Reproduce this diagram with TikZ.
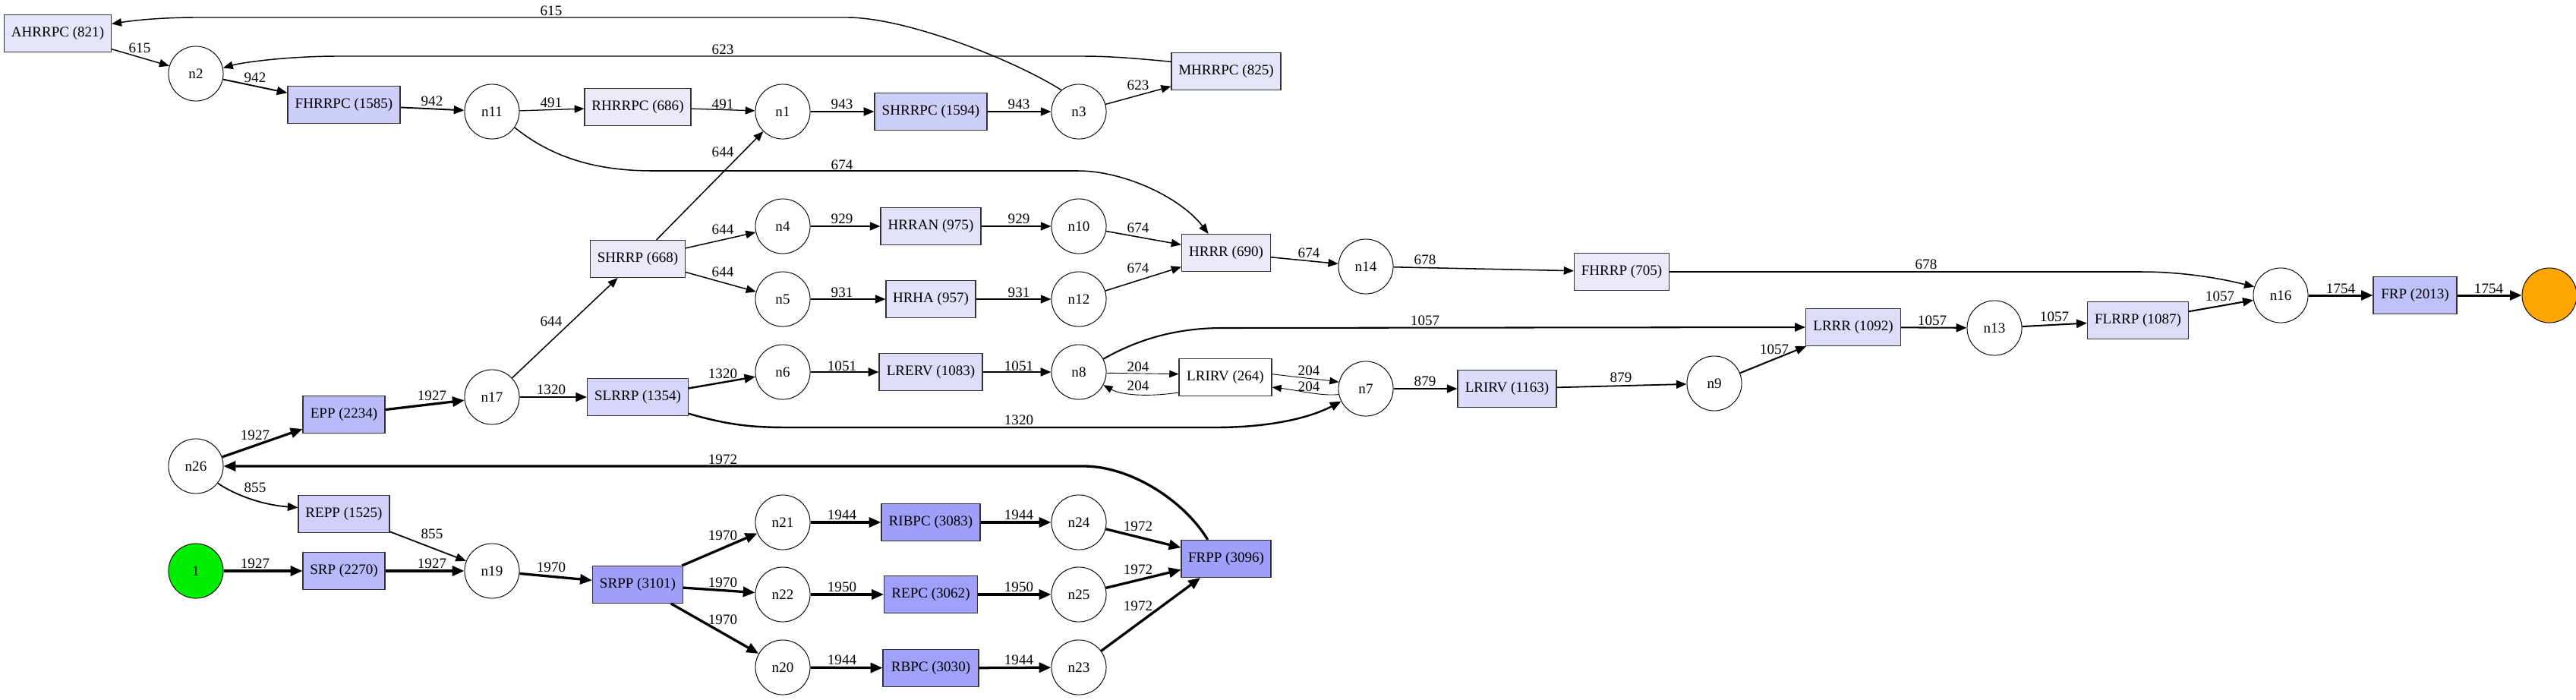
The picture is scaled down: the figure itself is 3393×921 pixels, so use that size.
\documentclass[tikz,border=0pt]{standalone}
\usepackage{fontspec}
\setmainfont{Liberation Serif}
\usetikzlibrary{arrows.meta}
\begin{document}
\begin{tikzpicture}[x=0.735pt,y=-0.735pt, font=\fontsize{14}{16}\selectfont,
  bx/.style 2 args={draw=black!80, line width=0.8pt, fill={rgb,255:red,#1;green,#1;blue,250}, minimum width={#2*0.735pt}, minimum height=36pt, inner sep=0pt},
  el/.style={draw, circle, minimum size=53pt, inner sep=0pt, line width=0.7pt},
  e/.style={line width={(0.45+#1/1000)*1pt}, -{Triangle[length=8pt 1.5, width=6pt 1.5]}},
  lb/.style={inner sep=0pt}
]
\fill[white] (0,0) rectangle (3393,921);
\useasboundingbox (0,0) rectangle (3393,921);

% nodes
\node[bx={230}{141}] (AHRRPC) at (76,44) {AHRRPC (821)};
\node[el] (n2) at (258,97) {n2};
\node[bx={206}{148}] (FHRRPC) at (453,138) {FHRRPC (1585)};
\node[el] (n11) at (648,147) {n11};
\node[bx={234}{140}] (RHRRPC) at (840,141) {RHRRPC (686)};
\node[el] (n1) at (1031,147) {n1};
\node[bx={206}{148}] (SHRRPC) at (1226,147) {SHRRPC (1594)};
\node[el] (n3) at (1421,147) {n3};
\node[bx={229}{144}] (MHRRPC) at (1615,94) {MHRRPC (825)};
\node[bx={234}{125}] (SHRRP) at (840,341) {SHRRP (668)};
\node[el] (n4) at (1031,298) {n4};
\node[bx={225}{132}] (HRRAN) at (1226,298) {HRRAN (975)};
\node[el] (n10) at (1421,298) {n10};
\node[el] (n5) at (1031,394) {n5};
\node[bx={225}{118}] (HRHA) at (1226,394) {HRHA (957)};
\node[el] (n12) at (1421,394) {n12};
\node[bx={234}{117}] (HRRR) at (1615,333) {HRRR (690)};
\node[el] (n14) at (1799,351) {n14};
\node[bx={233}{125}] (FHRRP) at (2136,358) {FHRRP (705)};
\node[el] (n16) at (3004,389) {n16};
\node[bx={193}{110}] (FRP) at (3181,389) {FRP (2013)};
\node[el, fill={rgb,255:red,255;green,165;blue,0}] (end) at (3358,389) {};
\node[bx={221}{125}] (LRRR) at (2441,431) {LRRR (1092)};
\node[el] (n13) at (2627,432) {n13};
\node[bx={221}{133}] (FLRRP) at (2816,422) {FLRRP (1087)};
\node[el] (n26) at (258,614) {n26};
\node[bx={186}{108}] (EPP) at (453,546) {EPP (2234)};
\node[el] (n17) at (648,523) {n17};
\node[bx={213}{133}] (SLRRP) at (840,523) {SLRRP (1354)};
\node[el] (n6) at (1031,490) {n6};
\node[bx={221}{136}] (LRERV) at (1226,490) {LRERV (1083)};
\node[el] (n8) at (1421,490) {n8};
\node[bx={255}{122}, fill=white] (LRIRVa) at (1614,497) {LRIRV (264)};
\node[el] (n7) at (1799,512) {n7};
\node[bx={219}{130}] (LRIRVb) at (1985,512) {LRIRV (1163)};
\node[el] (n9) at (2258,505) {n9};
\node[bx={208}{120}] (REPP) at (453,677) {REPP (1525)};
\node[el, fill={rgb,255:red,0;green,238;blue,0}] (s1) at (258,752) {1};
\node[bx={185}{108}] (SRP) at (453,752) {SRP (2270)};
\node[el] (n19) at (648,752) {n19};
\node[bx={159}{119}] (SRPP) at (840,770) {SRPP (3101)};
\node[el] (n21) at (1031,688) {n21};
\node[bx={159}{130}] (RIBPC) at (1226,688) {RIBPC (3083)};
\node[el] (n24) at (1421,688) {n24};
\node[el] (n22) at (1031,783) {n22};
\node[bx={160}{123}] (REPC) at (1226,783) {REPC (3062)};
\node[el] (n25) at (1421,783) {n25};
\node[el] (n20) at (1031,879) {n20};
\node[bx={161}{126}] (RBPC) at (1226,880) {RBPC (3030)};
\node[el] (n23) at (1421,879) {n23};
\node[bx={159}{118}] (FRPP) at (1615,736) {FRPP (3096)};

% curved edges
\draw[e=615] (n3.129) .. controls (1328,75) and (1190,23) .. (1116,23) -- (260,23) .. controls (210,23) and (175,27) .. (AHRRPC.10) node[lb] at (726,14) {615};
\draw[e=623] (MHRRPC.170) .. controls (1495,77) and (1465,74) .. (1425,74) -- (445,74) .. controls (380,74) and (320,82) .. (n2.12) node[lb] at (952,65) {623};
\draw[e=674] (n11.-35) .. controls (730,210) and (790,225) .. (860,225) -- (1420,225) .. controls (1480,225) and (1555,260) .. (HRRR.133) node[lb] at (1109,217) {674};
\draw[e=678] (FHRRP.east) -- (2820,358) .. controls (2880,358) and (2930,368) .. (n16.162) node[lb] at (2537,348) {678};
\draw[e=1320] (SLRRP.-18) .. controls (960,560) and (990,563) .. (1040,563) -- (1600,563) .. controls (1680,563) and (1730,548) .. (n7.-153) node[lb] at (1342,553) {1320};
\draw[e=1057] (n8.28) .. controls (1490,452) and (1540,432) .. (1610,432) -- (LRRR.west) node[lb] at (1877,422) {1057};
\draw[e=1972] (FRPP.134) .. controls (1560,660) and (1490,614) .. (1427,614) -- (n26.east) node[lb] at (952,605) {1972};
\draw[e=855] (n26.-38) .. controls (310,652) and (345,665) .. (REPP.172) node[lb] at (336,642) {855};
\draw[e=204] (n8.-2) -- (LRIRVa.176) node[lb] at (1499,483) {204};
\draw[e=204] (LRIRVa.-162) .. controls (1520,522) and (1480,522) .. (n8.-28) node[lb] at (1499,508) {204};
\draw[e=204] (LRIRVa.4) .. controls (1710,497) and (1740,500) .. (n7.166) node[lb] at (1724,488) {204};
\draw[e=204] (n7.-168) .. controls (1740,522) and (1710,514) .. (LRIRVa.-12) node[lb] at (1724,509) {204};

% straight edges
\draw[e=615] (AHRRPC) -- (n2) node[lb] at (184,63) {615};
\draw[e=942] (n2) -- (FHRRPC) node[lb] at (336,102) {942};
\draw[e=942] (FHRRPC) -- (n11) node[lb] at (569,133) {942};
\draw[e=491] (n11) -- (RHRRPC) node[lb] at (726,135) {491};
\draw[e=491] (RHRRPC) -- (n1) node[lb] at (952,137) {491};
\draw[e=943] (n1) -- (SHRRPC) node[lb] at (1109,137) {943};
\draw[e=943] (SHRRPC) -- (n3) node[lb] at (1342,137) {943};
\draw[e=623] (n3) -- (MHRRPC) node[lb] at (1499,112) {623};
\draw[e=644] (SHRRP) -- (n1) node[lb] at (952,200) {644};
\draw[e=644] (SHRRP) -- (n4) node[lb] at (952,302) {644};
\draw[e=644] (SHRRP) -- (n5) node[lb] at (952,358) {644};
\draw[e=929] (n4) -- (HRRAN) node[lb] at (1109,288) {929};
\draw[e=929] (HRRAN) -- (n10) node[lb] at (1342,288) {929};
\draw[e=674] (n10) -- (HRRR) node[lb] at (1499,300) {674};
\draw[e=931] (n5) -- (HRHA) node[lb] at (1109,385) {931};
\draw[e=931] (HRHA) -- (n12) node[lb] at (1342,385) {931};
\draw[e=674] (n12) -- (HRRR) node[lb] at (1499,353) {674};
\draw[e=674] (HRRR) -- (n14) node[lb] at (1724,333) {674};
\draw[e=678] (n14) -- (FHRRP) node[lb] at (1877,342) {678};
\draw[e=644] (n17) -- (SHRRP) node[lb] at (726,423) {644};
\draw[e=1320] (n17) -- (SLRRP) node[lb] at (726,513) {1320};
\draw[e=1320] (SLRRP) -- (n6) node[lb] at (952,492) {1320};
\draw[e=1051] (n6) -- (LRERV) node[lb] at (1109,482) {1051};
\draw[e=1051] (LRERV) -- (n8) node[lb] at (1342,482) {1051};
\draw[e=879] (n7) -- (LRIRVb) node[lb] at (1877,502) {879};
\draw[e=879] (LRIRVb) -- (n9) node[lb] at (2135,497) {879};
\draw[e=1057] (n9) -- (LRRR) node[lb] at (2337,460) {1057};
\draw[e=1057] (LRRR) -- (n13) node[lb] at (2545,422) {1057};
\draw[e=1057] (n13) -- (FLRRP) node[lb] at (2706,417) {1057};
\draw[e=1057] (FLRRP) -- (n16) node[lb] at (2924,390) {1057};
\draw[e=1754] (n16) -- (FRP) node[lb] at (3083,380) {1754};
\draw[e=1754] (FRP) -- (end) node[lb] at (3278,380) {1754};
\draw[e=1927] (n26) -- (EPP) node[lb] at (336,573) {1927};
\draw[e=1927] (EPP) -- (n17) node[lb] at (569,521) {1927};
\draw[e=855] (REPP) -- (n19) node[lb] at (569,703) {855};
\draw[e=1927] (s1) -- (SRP) node[lb] at (336,742) {1927};
\draw[e=1927] (SRP) -- (n19) node[lb] at (569,742) {1927};
\draw[e=1970] (n19) -- (SRPP) node[lb] at (726,747) {1970};
\draw[e=1970] (SRPP) -- (n21) node[lb] at (952,705) {1970};
\draw[e=1970] (SRPP) -- (n22) node[lb] at (952,767) {1970};
\draw[e=1970] (SRPP) -- (n20) node[lb] at (952,816) {1970};
\draw[e=1944] (n21) -- (RIBPC) node[lb] at (1109,678) {1944};
\draw[e=1944] (RIBPC) -- (n24) node[lb] at (1342,678) {1944};
\draw[e=1972] (n24) -- (FRPP) node[lb] at (1499,693) {1972};
\draw[e=1950] (n22) -- (REPC) node[lb] at (1109,773) {1950};
\draw[e=1950] (REPC) -- (n25) node[lb] at (1342,773) {1950};
\draw[e=1972] (n25) -- (FRPP) node[lb] at (1499,750) {1972};
\draw[e=1944] (n20) -- (RBPC) node[lb] at (1109,869) {1944};
\draw[e=1944] (RBPC) -- (n23) node[lb] at (1342,869) {1944};
\draw[e=1972] (n23) -- (FRPP) node[lb] at (1499,798) {1972};
\end{tikzpicture}
\end{document}
